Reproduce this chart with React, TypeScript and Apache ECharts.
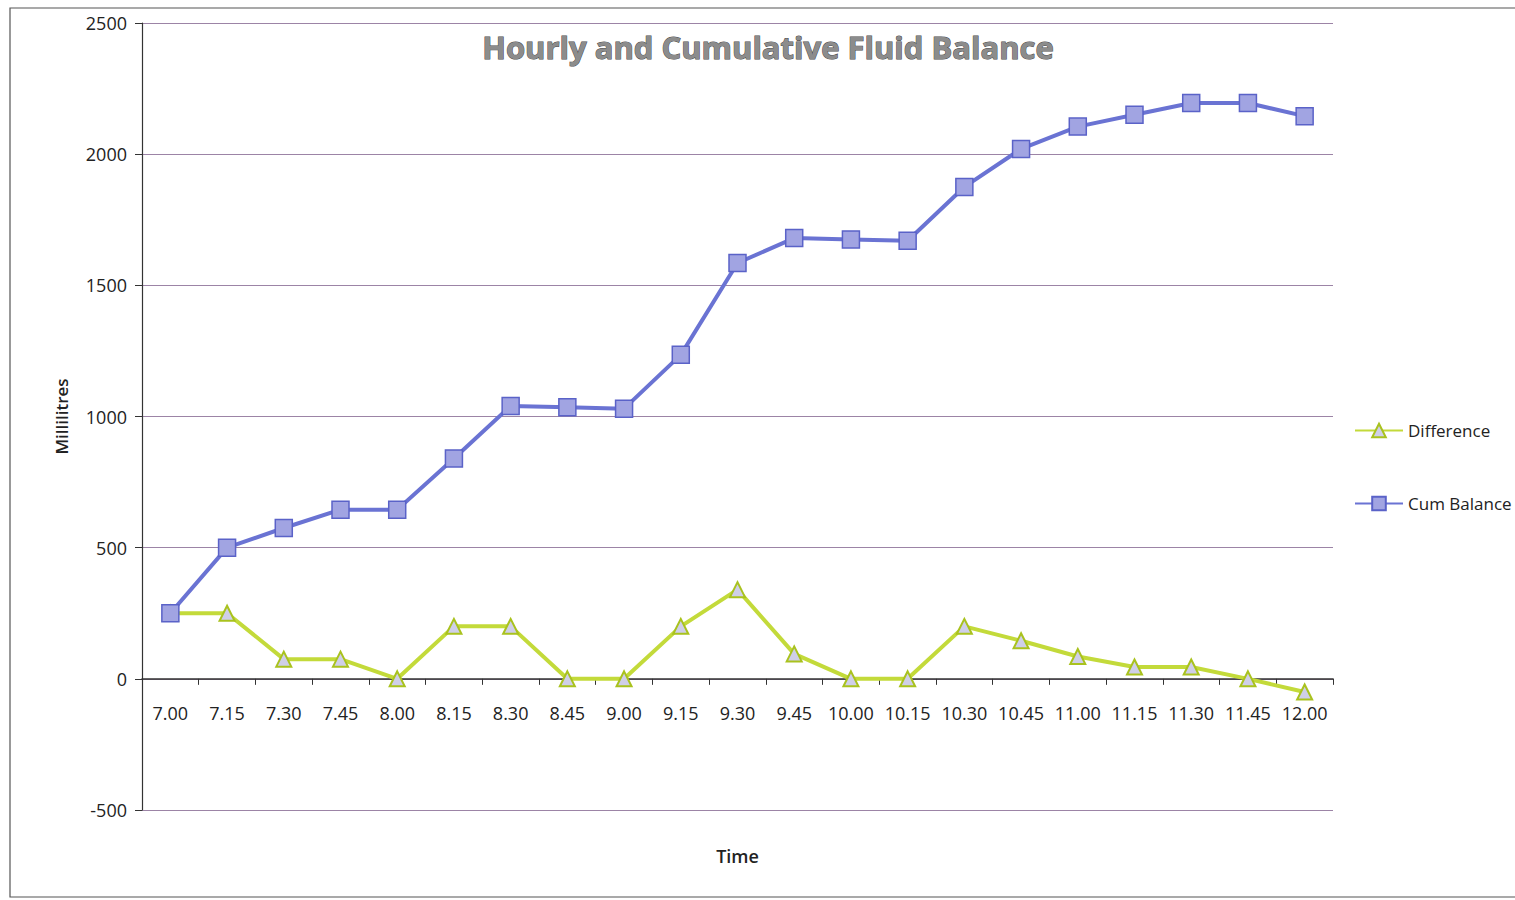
import React, { useEffect, useRef } from "react";
import * as echarts from "echarts";

const times = ["7.00","7.15","7.30","7.45","8.00","8.15","8.30","8.45","9.00","9.15","9.30","9.45","10.00","10.15","10.30","10.45","11.00","11.15","11.30","11.45","12.00"];
const difference = [250,250,75,75,0,200,200,0,0,200,340,95,0,0,200,145,85,45,45,0,-50];
const cumBalance = [250,500,575,645,645,840,1040,1035,1030,1235,1585,1680,1675,1670,1875,2020,2105,2150,2195,2195,2145];
const yTicks = { min: -500, max: 2500, interval: 500 };

const FONT = "'Open Sans', 'DejaVu Sans', sans-serif";

export default function App() {
  const ref = useRef<HTMLDivElement>(null);
  useEffect(() => {
    if (!ref.current) return;
    const chart = echarts.init(ref.current, undefined, { renderer: "svg" });
    chart.setOption({
      animation: false,
      backgroundColor: "#ffffff",
      title: {
        text: "Hourly and Cumulative Fluid Balance",
        left: 763,
        top: 26,
        textAlign: "center",
        textStyle: {
          fontFamily: FONT,
          fontWeight: "bold",
          fontSize: 31,
          color: "#8c8c8c",
          textBorderColor: "#4a4a4a",
          textBorderWidth: 1,
        },
      },
      graphic: [
        {
          type: "rect",
          shape: { x: 10, y: 8, width: 1530, height: 889 },
          style: { fill: "none", stroke: "#555", lineWidth: 1.2 },
          silent: true,
        },
      ],
      legend: {
        orient: "vertical",
        left: 1349,
        top: 417,
        itemWidth: 48,
        itemHeight: 17,
        itemGap: 56,
        textStyle: { fontFamily: FONT, fontSize: 17, color: "#222" },
        data: ["Difference", "Cum Balance"],
      },
      grid: { left: 142, top: 23, right: 182, bottom: 90, containLabel: false, outerBoundsMode: "none" },
      xAxis: {
        type: "category",
        data: times,
        boundaryGap: true,
        name: "Time",
        nameLocation: "middle",
        nameGap: 37,
        nameTextStyle: { fontFamily: FONT, fontSize: 18, fontWeight: 600, color: "#222" },
        axisLine: { show: true, onZero: true, lineStyle: { color: "#333", width: 1.5 } },
        axisTick: { show: true, alignWithLabel: false, length: 6, lineStyle: { color: "#333" } },
        axisLabel: { fontFamily: FONT, fontSize: 18, color: "#222", margin: -106, interval: 0 },
        splitLine: { show: false },
      },
      yAxis: {
        type: "value",
        min: yTicks.min,
        max: yTicks.max,
        interval: yTicks.interval,
        name: "Millilitres",
        nameLocation: "middle",
        nameGap: 72,
        nameTextStyle: { fontFamily: FONT, fontSize: 17, fontWeight: 600, color: "#222" },
        axisLine: { show: true, lineStyle: { color: "#333", width: 1.2 } },
        axisTick: { show: true, length: 7, lineStyle: { color: "#333" } },
        axisLabel: { fontFamily: FONT, fontSize: 18, color: "#222", margin: 15, formatter: (v: number) => String(v) },
        splitLine: { show: true, lineStyle: { color: "#9c84a6", width: 1.2 } },
      },
      series: [
        {
          name: "Difference",
          type: "line",
          data: difference,
          symbol: "triangle",
          symbolSize: 15,
          lineStyle: { color: "#c3da3a", width: 4 },
          itemStyle: { color: "#cfcfe8", borderColor: "#a9c21e", borderWidth: 2 },
          z: 2,
        },
        {
          name: "Cum Balance",
          type: "line",
          data: cumBalance,
          symbol: "rect",
          symbolSize: 17,
          lineStyle: { color: "#6a73d3", width: 4 },
          itemStyle: { color: "#a1a4e2", borderColor: "#5a62c8", borderWidth: 1.5 },
          z: 3,
        },
      ],
    });
    return () => chart.dispose();
  }, []);
  return (
    <div
      ref={ref}
      style={{ position: "absolute", left: 0, top: 0, width: 1515, height: 900 }}
    />
  );
}
